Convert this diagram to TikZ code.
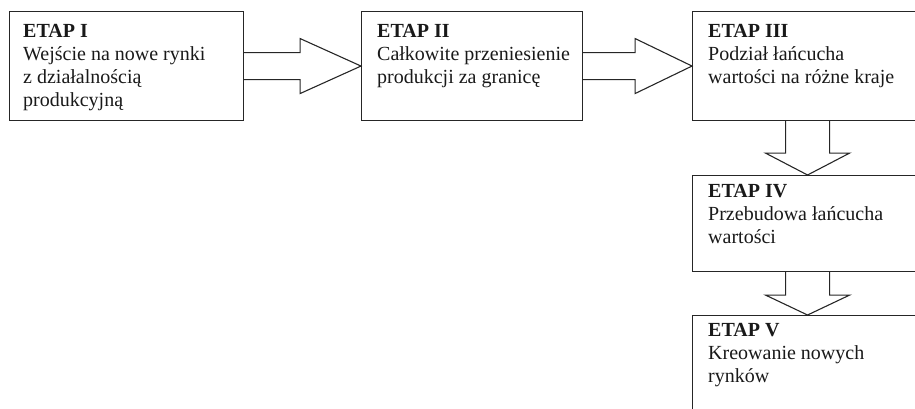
\documentclass[tikz,border=0pt]{standalone}
\usepackage{fontspec}
\setmainfont{Liberation Serif}
\usetikzlibrary{calc}
\tikzset{
  stagebox/.style={draw=black!85, line width=1.1pt, rectangle, inner sep=0pt, anchor=north west},
  stagetext/.style={inner sep=0pt, anchor=north west, align=left,
    font=\fontsize{20}{23}\selectfont, text=black!90},
  blockarrow/.style={draw=black!85, line width=1.1pt, line join=miter},
}
\begin{document}
\begin{tikzpicture}[x=1pt,y=-1pt]
\useasboundingbox (0,0) rectangle (915,408);
\clip (0,0) rectangle (915,408);
% boxes
\node[stagebox, minimum width=234pt, minimum height=109pt] (b1) at (9,11) {};
\node[stagebox, minimum width=221pt, minimum height=109pt] (b2) at (361,11) {};
\node[stagebox, minimum width=230pt, minimum height=109pt] (b3) at (692,11) {};
\node[stagebox, minimum width=230pt, minimum height=96pt] (b4) at (692,175) {};
\node[stagebox, minimum width=230pt, minimum height=125pt] (b5) at (692,315) {};
% texts
\node[stagetext] (t1) at ($(b1.north west)+(14,13)$) {\textbf{ETAP I}\\Wejście na nowe rynki\\z działalnością\\produkcyjną};
\node[stagetext] (t2) at ($(b2.north west)+(16,13)$) {\textbf{ETAP II}\\Całkowite przeniesienie\\produkcji za granicę};
\node[stagetext] (t3) at ($(b3.north west)+(16,13)$) {\textbf{ETAP III}\\Podział łańcucha\\wartości na różne kraje};
\node[stagetext] (t4) at ($(b4.north west)+(16,9)$) {\textbf{ETAP IV}\\Przebudowa łańcucha\\wartości};
\node[stagetext] (t5) at ($(b5.north west)+(16,8)$) {\textbf{ETAP V}\\Kreowanie nowych\\rynków};
% right block arrows
\draw[blockarrow] ([yshift=13.5pt]b1.east) -- ++(56,0) -- ++(0,-14) -- (b2.west)
  -- ($(b1.east)+(56,27.5)$) -- ++(0,-14) -- ([yshift=-13.5pt]b1.east);
\draw[blockarrow] ([yshift=13.5pt]b2.east) -- ++(52,0) -- ++(0,-14) -- (b3.west)
  -- ($(b2.east)+(52,27.5)$) -- ++(0,-14) -- ([yshift=-13.5pt]b2.east);
% down block arrows
\draw[blockarrow] ([xshift=-22pt]b3.south) -- ++(0,32) -- ++(-20,0) -- (b4.north)
  -- ($(b3.south)+(42,32)$) -- ++(-20,0) -- ([xshift=22pt]b3.south);
\draw[blockarrow] ([xshift=-22pt]b4.south) -- ++(0,23) -- ++(-20,0) -- (b5.north)
  -- ($(b4.south)+(42,23)$) -- ++(-20,0) -- ([xshift=22pt]b4.south);
\end{tikzpicture}
\end{document}
